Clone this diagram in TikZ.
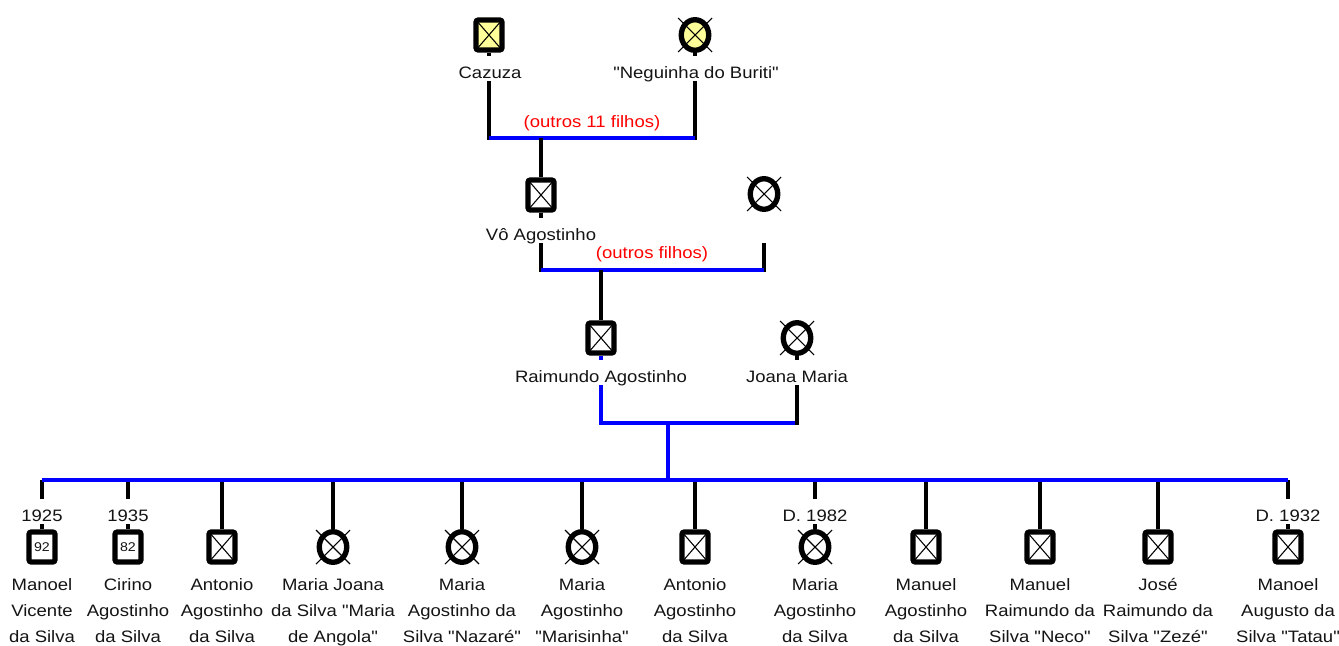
\documentclass[tikz,border=0pt]{standalone}
\usepackage{fontspec}
\usetikzlibrary{shapes.geometric}
\setmainfont{Liberation Sans}[FakeStretch=1.12, Ligatures=TeXOff]
\definecolor{ink}{RGB}{20,20,20}
\definecolor{pale}{RGB}{255,255,153}
% thin X drawn across a female symbol, reaching past the ring
\newcommand\femcross[1]{%
  \draw[line width=0.8pt] ([shift={(-17,-17)}]#1.center) -- ([shift={(17,17)}]#1.center)
                          ([shift={(17,-17)}]#1.center) -- ([shift={(-17,17)}]#1.center);}
\begin{document}
\begin{tikzpicture}[x=0.75pt,y=-0.75pt,
  male/.style={rectangle, draw=black, line width=4pt, rounded corners=1.8pt,
    minimum width=19.5pt, minimum height=22.5pt, inner sep=0pt, fill=white},
  crossed/.style={path picture={\draw[line width=0.8pt]
      (path picture bounding box.south west) -- (path picture bounding box.north east)
      (path picture bounding box.north west) -- (path picture bounding box.south east);}},
  female/.style={ellipse, draw=black, line width=4pt, minimum width=20.6pt,
    minimum height=22.9pt, inner sep=0pt, fill=white},
  plabel/.style={font=\fontsize{12.4}{15}\selectfont, text=ink, inner sep=0pt,
    text height=16.5pt, text depth=2.25pt, anchor=base},
  kid/.style={font=\fontsize{12.4}{19.5}\selectfont, text=ink, align=center,
    inner sep=0pt, anchor=north},
  remark/.style={font=\fontsize{12.4}{15}\selectfont, text=red, anchor=base},
  agetxt/.style={font=\fontsize{9.5}{10}\selectfont, text=ink},
  stem/.style={draw=black, line width=3.5pt},
  union/.style={draw=blue, line width=3.5pt},
]
\useasboundingbox (0,0) rectangle (1339,646);

% ---- great-grandparents
\node[male, crossed, fill=pale] (caz) at (489,35) {};
\node[female, fill=pale] (neg) at (695,35) {};
\femcross{neg}
\node[plabel] (cazl) at (490,78) {Cazuza};
\node[plabel] (negl) at (696,78) {"Neguinha do Buriti"};
\coordinate (b1l) at (489,138);
\coordinate (b1r) at (695,138);
\draw[stem] (caz) -- (cazl.north -| caz);
\draw[stem, shorten >=-1.75pt] (cazl.south -| caz) -- (b1l);
\draw[stem] (neg) -- (negl.north -| neg);
\draw[stem, shorten >=-1.75pt] (negl.south -| neg) -- (b1r);
\draw[union] (b1l) -- (b1r);
\node[remark] (o11) at (592,127) {(outros 11 filhos)};

% ---- grandparents
\node[male, crossed] (vo) at (541,195) {};
\node[female] (avo) at (764,194) {};
\femcross{avo}
\node[plabel] (vol) at (541,240) {Vô Agostinho};
\coordinate (avost) at (764,243);
\coordinate (b2l) at (541,270);
\coordinate (b2r) at (764,270);
\draw[stem] (vo |- b1l) -- (vo);
\draw[stem] (vo) -- (vol.north -| vo);
\draw[stem, shorten >=-1.75pt] (vol.south -| vo) -- (b2l);
\draw[stem, shorten >=-1.75pt] (avost) -- (b2r);
\draw[union] (b2l) -- (b2r);
\node[remark] (of) at (652,258) {(outros filhos)};

% ---- parents
\node[male, crossed] (rai) at (601,338) {};
\node[female] (joa) at (797,338) {};
\femcross{joa}
\node[plabel] (rail) at (601,382) {Raimundo Agostinho};
\node[plabel] (joal) at (797,382) {Joana Maria};
\coordinate (b3l) at (601,423);
\coordinate (b3r) at (797,423);
\coordinate (b3m) at (668,423);
\draw[stem] (rai |- b2l) -- (rai);
\draw[union] (rai) -- (rail.north -| rai);
\draw[union] (rail.south -| rai) -- (b3l) -- (b3r);
\draw[stem] (joa) -- (joal.north -| joa);
\draw[stem, shorten >=-1.75pt] (joal.south -| joa) -- (b3r);

% ---- children
\coordinate (b4l) at (42,480);
\coordinate (b4r) at (1288,480);
\coordinate (b4m) at (668,480);

\node[male, agetxt] (c1) at (42,547) {92};
\node[male, agetxt] (c2) at (128,547) {82};
\node[male, crossed] (c3) at (222,547) {};
\node[female] (c4) at (333,547) {};
\node[female] (c5) at (462,547) {};
\node[female] (c6) at (582,547) {};
\node[male, crossed] (c7) at (695,547) {};
\node[female] (c8) at (815,547) {};
\node[male, crossed] (c9) at (926,547) {};
\node[male, crossed] (c10) at (1040,547) {};
\node[male, crossed] (c11) at (1158,547) {};
\node[male, crossed] (c12) at (1288,547) {};
\femcross{c4}
\femcross{c5}
\femcross{c6}
\femcross{c8}

\node[plabel] (y1) at (42,521) {1925};
\node[plabel] (y2) at (128,521) {1935};
\node[plabel] (y8) at (815,521) {D. 1982};
\node[plabel] (y12) at (1288,521) {D. 1932};

\foreach \c/\y in {c1/y1, c2/y2, c8/y8, c12/y12} {
  \draw[stem] (\c |- b4l) -- (\y.north -| \c);
  \draw[stem] (\y.south -| \c) -- (\c);
}
\foreach \c in {c3, c4, c5, c6, c7, c9, c10, c11} {
  \draw[stem] (\c |- b4l) -- (\c);
}
\draw[union] (b3m) -- (b4m);
\draw[union] (b4l) -- (b4r);

\node[kid] (n1) at (42,578) {Manoel\\Vicente\\da Silva};
\node[kid] (n2) at (128,578) {Cirino\\Agostinho\\da Silva};
\node[kid] (n3) at (222,578) {Antonio\\Agostinho\\da Silva};
\node[kid] (n4) at (333,578) {Maria Joana\\da Silva "Maria\\de Angola"};
\node[kid] (n5) at (462,578) {Maria\\Agostinho da\\Silva "Nazaré"};
\node[kid] (n6) at (582,578) {Maria\\Agostinho\\"Marisinha"};
\node[kid] (n7) at (695,578) {Antonio\\Agostinho\\da Silva};
\node[kid] (n8) at (815,578) {Maria\\Agostinho\\da Silva};
\node[kid] (n9) at (926,578) {Manuel\\Agostinho\\da Silva};
\node[kid] (n10) at (1040,578) {Manuel\\Raimundo da\\Silva "Neco"};
\node[kid] (n11) at (1158,578) {José\\Raimundo da\\Silva "Zezé"};
\node[kid] (n12) at (1288,578) {Manoel\\Augusto da\\Silva "Tatau"};
\end{tikzpicture}
\end{document}
